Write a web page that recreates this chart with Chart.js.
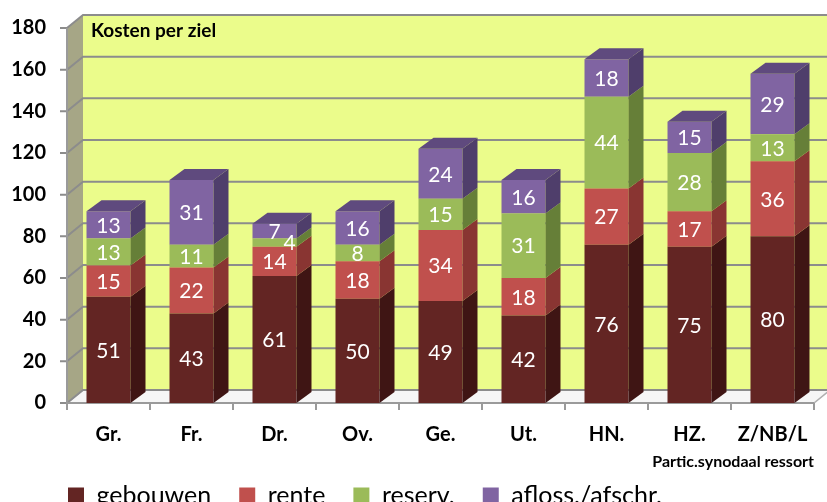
<!DOCTYPE html>
<html>
<head>
  <title>Kosten per ziel</title>
  <meta charset="utf-8" />
  <style>
    body { margin: 0; background: #fff; }
    #c { display: block; }
  </style>
</head>
<body>
  <canvas id="c" width="827" height="502"></canvas>

  <script src="https://cdn.jsdelivr.net/npm/chart.js"></script>
  <script>
    const categories = ['Gr.', 'Fr.', 'Dr.', 'Ov.', 'Ge.', 'Ut.', 'HN.', 'HZ.', 'Z/NB/L'];
    const gebouwen  = [51, 43, 61, 50, 49, 42, 76, 75, 80];
    const rente     = [15, 22, 14, 18, 34, 18, 27, 17, 36];
    const reserv    = [13, 11, 4, 8, 15, 31, 44, 28, 13];
    const aflossing = [13, 31, 7, 16, 24, 16, 18, 15, 29];
    const yMin = 0, yMax = 180, yStep = 20;

    const FONT = 'Lato';
    // depth of the back wall and of the bars
    const WALL_DX = 16, WALL_DY = -13;
    const BAR_DX = 15, BAR_DY = -11;

    const box3d = {
      id: 'box3d',
      afterLayout(chart) {
        // legend starts under the plot, not at the canvas edge
        if (chart.legend) {
          chart.legend.left += 40;
          chart.legend.right += 40;
        }
      },
      beforeDraw(chart) {
        const { ctx, chartArea: a, scales: { y } } = chart;
        ctx.save();
        ctx.fillStyle = '#fff';
        ctx.fillRect(0, 0, chart.width, chart.height);

        // back wall
        ctx.fillStyle = '#ebfc8b';
        ctx.fillRect(a.left + WALL_DX, a.top + WALL_DY, a.right - a.left, a.bottom - a.top);

        // left wall
        ctx.fillStyle = '#a6a686';
        ctx.beginPath();
        ctx.moveTo(a.left, a.top);
        ctx.lineTo(a.left + WALL_DX, a.top + WALL_DY);
        ctx.lineTo(a.left + WALL_DX, a.bottom + WALL_DY);
        ctx.lineTo(a.left, a.bottom);
        ctx.closePath();
        ctx.fill();

        // floor
        ctx.fillStyle = '#f6f6f6';
        ctx.strokeStyle = '#b0b0b0';
        ctx.lineWidth = 1.5;
        ctx.beginPath();
        ctx.moveTo(a.left, a.bottom);
        ctx.lineTo(a.left + WALL_DX, a.bottom + WALL_DY);
        ctx.lineTo(a.right + WALL_DX, a.bottom + WALL_DY);
        ctx.lineTo(a.right, a.bottom);
        ctx.closePath();
        ctx.fill();
        ctx.stroke();

        // gridlines on the walls + tick marks
        ctx.strokeStyle = '#8c8c8c';
        ctx.lineWidth = 2;
        y.ticks.forEach(t => {
          const py = y.getPixelForValue(t.value);
          ctx.beginPath();
          ctx.moveTo(a.left - 7, py);
          ctx.lineTo(a.left, py);
          ctx.lineTo(a.left + WALL_DX, py + WALL_DY);
          ctx.lineTo(a.right + WALL_DX, py + WALL_DY);
          ctx.stroke();
        });

        // axis lines
        ctx.strokeStyle = '#9a9a9a';
        ctx.beginPath();
        ctx.moveTo(a.left, a.top);
        ctx.lineTo(a.left, a.bottom);
        ctx.lineTo(a.right, a.bottom);
        ctx.stroke();
        const n = categories.length;
        const step = (a.right - a.left) / n;
        for (let i = 0; i <= n; i++) {
          const px = a.left + i * step;
          ctx.beginPath();
          ctx.moveTo(px, a.bottom);
          ctx.lineTo(px, a.bottom + 7);
          ctx.stroke();
        }

        // chart title inside the plot
        ctx.fillStyle = '#000';
        ctx.font = 'bold 19px ' + FONT;
        ctx.textBaseline = 'middle';
        ctx.fillText('Kosten per ziel', a.left + 24, a.top + 3);
        ctx.restore();
      },
      afterDatasetsDraw(chart) {
        const { ctx } = chart;
        const last = chart.data.datasets.length - 1;
        ctx.save();
        chart.data.datasets.forEach((ds, di) => {
          const meta = chart.getDatasetMeta(di);
          meta.data.forEach(bar => {
            const l = bar.x - bar.width / 2, r = bar.x + bar.width / 2;
            const top = Math.min(bar.y, bar.base), bot = Math.max(bar.y, bar.base);
            // side face
            ctx.fillStyle = ds.sideColor;
            ctx.beginPath();
            ctx.moveTo(r, top);
            ctx.lineTo(r + BAR_DX, top + BAR_DY);
            ctx.lineTo(r + BAR_DX, bot + BAR_DY);
            ctx.lineTo(r, bot);
            ctx.closePath();
            ctx.fill();
            // top face on the last segment
            if (di === last) {
              ctx.fillStyle = ds.topColor;
              ctx.beginPath();
              ctx.moveTo(l, top);
              ctx.lineTo(l + BAR_DX, top + BAR_DY);
              ctx.lineTo(r + BAR_DX, top + BAR_DY);
              ctx.lineTo(r, top);
              ctx.closePath();
              ctx.fill();
            }
          });
        });

        // value labels
        ctx.fillStyle = '#fff';
        ctx.font = '21px ' + FONT;
        ctx.textAlign = 'center';
        ctx.textBaseline = 'middle';
        chart.data.datasets.forEach((ds, di) => {
          const meta = chart.getDatasetMeta(di);
          meta.data.forEach((bar, i) => {
            const h = Math.abs(bar.base - bar.y);
            const cy = (bar.y + bar.base) / 2 + 1;
            let cx = bar.x;
            if (h < 12) cx = bar.x + bar.width / 2 - 7;
            ctx.fillText(String(ds.data[i]), cx, cy);
          });
        });
        ctx.restore();
      }
    };

    new Chart(document.getElementById('c'), {
      type: 'bar',
      data: {
        labels: categories,
        datasets: [
          { label: 'gebouwen', data: gebouwen, backgroundColor: '#632523', sideColor: '#3f1514', topColor: '#4e1c1b' },
          { label: 'rente', data: rente, backgroundColor: '#c0504d', sideColor: '#893532', topColor: '#a14340' },
          { label: 'reserv.', data: reserv, backgroundColor: '#9bbb59', sideColor: '#667f38', topColor: '#80a046' },
          { label: 'afloss./afschr.', data: aflossing, backgroundColor: '#8064a2', sideColor: '#4f3e6b', topColor: '#5f4a7e' }
        ]
      },
      options: {
        responsive: false,
        devicePixelRatio: 1,
        animation: false,
        layout: { padding: { left: 0, right: 13, top: 28, bottom: -16 } },
        datasets: {
          bar: { categoryPercentage: 1, barPercentage: 0.53, borderWidth: 0 }
        },
        scales: {
          x: {
            stacked: true,
            grid: { display: false, drawTicks: false },
            border: { display: false },
            ticks: { color: '#000', padding: 20, font: { family: FONT, size: 20, weight: 'bold' } },
            title: {
              display: true,
              text: 'Partic.synodaal ressort',
              align: 'end',
              color: '#000',
              padding: { top: 0, bottom: -16 },
              font: { family: FONT, size: 16, weight: 'bold' }
            },
            afterFit: s => { s.height = 52; s.paddingLeft = 0; s.paddingRight = 0; }
          },
          y: {
            stacked: true,
            min: yMin,
            max: yMax,
            grid: { display: false, drawTicks: false },
            border: { display: false },
            ticks: { stepSize: yStep, color: '#000', padding: 21, font: { family: FONT, size: 20, weight: 'bold' } },
            afterFit: s => { s.width = 67; s.paddingTop = 0; s.paddingBottom = 0; }
          }
        },
        plugins: {
          tooltip: { enabled: false },
          legend: {
            position: 'bottom',
            align: 'start',
            labels: {
              color: '#000',
              boxWidth: 16,
              boxHeight: 16,
              padding: 28,
              font: { family: FONT, size: 25 }
            }
          }
        }
      },
      plugins: [box3d]
    });
  </script>
</body>
</html>
